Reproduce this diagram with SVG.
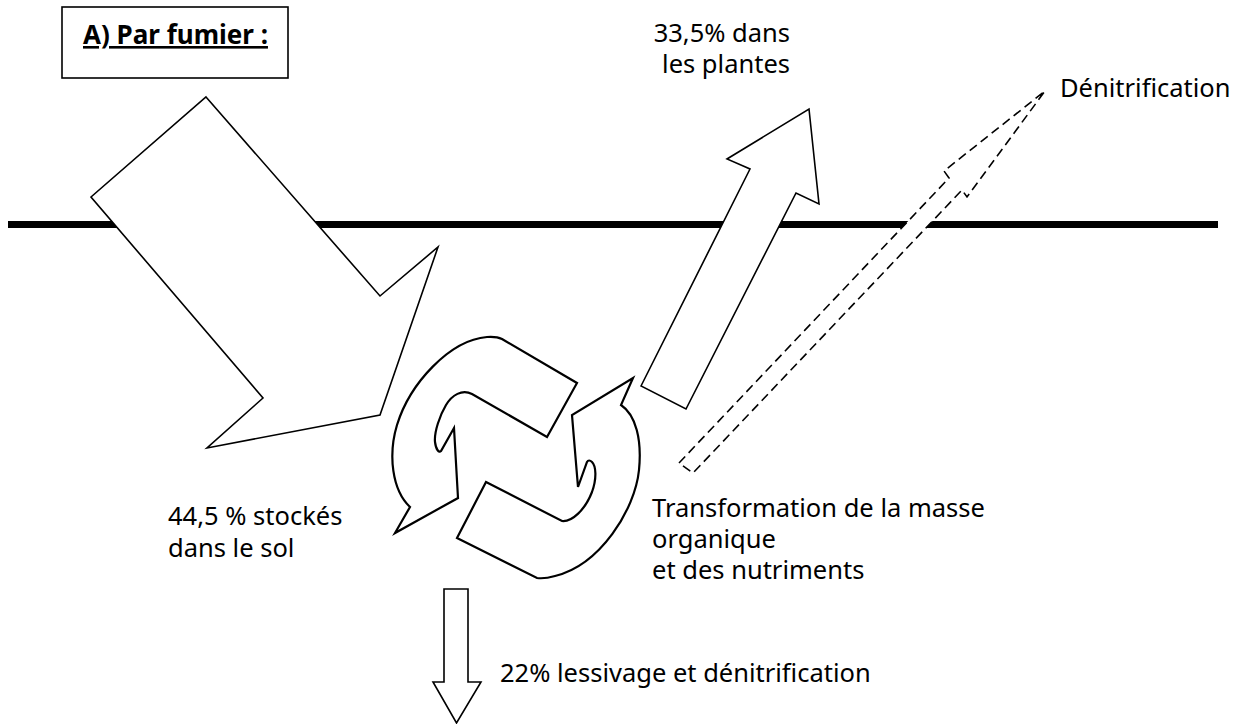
<svg xmlns="http://www.w3.org/2000/svg" width="1241" height="724" viewBox="0 0 1241 724">
<style>
.t{font-family:"Noto Sans","Liberation Sans",sans-serif;font-size:25.5px;fill:#000}
.b{font-family:"Noto Sans","Liberation Sans",sans-serif;font-size:26px;font-weight:bold;fill:#000;text-decoration:underline}
.sh{fill:#fff;stroke:#000;stroke-width:1.6;stroke-linejoin:miter}
.cy{fill:#fff;stroke:#000;stroke-width:2.2;stroke-linejoin:miter}
.da{fill:#fff;stroke:#000;stroke-width:1.6;stroke-dasharray:9 5}
</style>
<rect width="1241" height="724" fill="#fff"/>
<g id="ground">
<line x1="8" y1="224.5" x2="1218" y2="224.5" stroke="#000" stroke-width="7"/>
</g>
<g id="title">
<rect x="62" y="7" width="226" height="71" fill="#fff" stroke="#000" stroke-width="1.6"/>
<text class="b" x="83" y="44">A) Par fumier :</text>
</g>
<g id="connectors">
<g id="input-arrow">
<polygon class="sh" points="206,97 380,296 438,247 380,415 207,448 263,398 91,197"/>
</g>
<g id="plants-arrow">
<polygon class="sh" points="641,386 750,169 727,159 809,109 819,204 796,193 686,409"/>
</g>
<g id="denitrification-arrow">
<polygon class="da" points="679,463 949,178 944,171 1045,91 967,197 962,190 693,473"/>
</g>
<g id="leaching-arrow">
<polygon class="sh" points="444,589 468,589 468,682 481,682 456.5,723 433,682 444,682"/>
</g>
</g>
<g id="cycle">
<path class="cy" d="M502,339 L577,383 L547,437 L472,394 C462,389 452,395 446,405 C440,415 434,432 435,442 C436,450 439,453 441,451 L454,428 L458,498 L395,533 L410,507 C392,490 388,455 397,425 C410,383 450,340 487,337 C494,336.5 498,337 502,339 Z"/>
<path class="cy" d="M486,482 L562,521 C572,522 585,510 592,492 C597,478 596,466 592,462 C590,460 588,460 587,462 L578,487 L572,415 L633,378 L621,405 C636,415 642,440 639,470 C635,510 600,565 555,576 C548,578 541,578.5 537,578 L457,538 Z"/>
</g>
<g id="labels">
<text class="t" x="790" y="42" text-anchor="end">33,5% dans</text>
<text class="t" x="790" y="73" text-anchor="end">les plantes</text>
<text class="t" x="1060" y="97">Dénitrification</text>
<text class="t" x="168" y="525">44,5 % stockés</text>
<text class="t" x="168" y="557">dans le sol</text>
<text class="t" x="652" y="517">Transformation de la masse</text>
<text class="t" x="652" y="548">organique</text>
<text class="t" x="652" y="579">et des nutriments</text>
<text class="t" x="500" y="682">22% lessivage et dénitrification</text>
</g>
</svg>
